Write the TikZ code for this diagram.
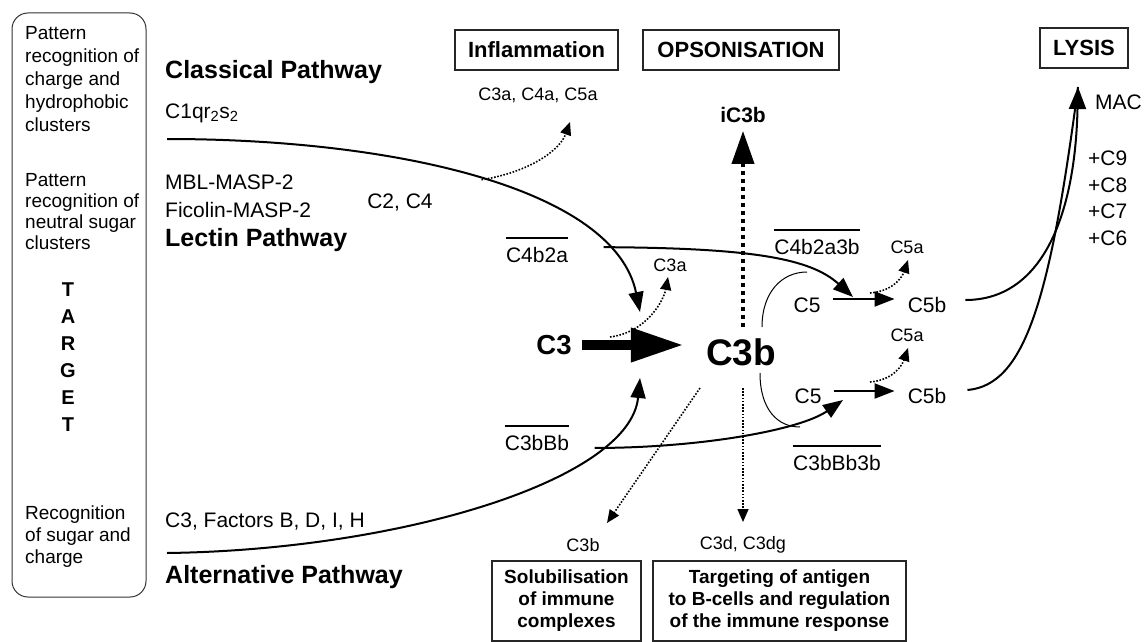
\documentclass[tikz,border=0pt]{standalone}
\usepackage{fontspec}
\setmainfont{Liberation Sans}
\usetikzlibrary{arrows.meta}
\begin{document}
\begin{tikzpicture}[x=1pt,y=-1pt,
  lbl/.style={inner sep=0pt, font=\fontsize{21}{25}\selectfont},
  sml/.style={inner sep=0pt, font=\fontsize{18}{22}\selectfont},
  pathlbl/.style={inner sep=0pt, font=\fontsize{25}{30}\selectfont\bfseries, anchor=west},
  boxtxt/.style={inner sep=0pt, align=left, anchor=north west},
  headbox/.style={draw=black!85, line width=1.2pt, inner sep=0pt, font=\fontsize{22}{26}\selectfont\bfseries},
  funcbox/.style={draw=black!85, line width=1.2pt, inner sep=0pt, font=\fontsize{19}{22}\selectfont\bfseries, align=center},
  mainarr/.style={line width=2pt, -{Triangle[length=20pt,width=15pt]}},
  plainln/.style={line width=2pt},
  thinln/.style={line width=1pt},
  dotarr/.style={line width=1.6pt, dash pattern=on 1.6pt off 1.6pt, -{Triangle[length=13pt,width=11pt]}},
  bigdot/.style={line width=4pt, dash pattern=on 4pt off 4pt, -{Triangle[length=33pt,width=22pt]}},
  bigarr/.style={line width=10pt, -{Triangle[length=53pt,width=32pt]}},
  ovl/.style={line width=1.2pt}
]
\useasboundingbox (0,0) rectangle (1145,642);

% target box
\node[draw=black!80, line width=1pt, rounded corners=16pt, minimum width=134, minimum height=584, inner sep=0pt] (target) at (79,305) {};
\node[boxtxt, font=\fontsize{19}{23}\selectfont] (b1) at (25,26) {Pattern\\recognition of\\charge and\\hydrophobic\\clusters};
\node[boxtxt, font=\fontsize{19}{21}\selectfont] (b2) at (25,173) {Pattern\\recognition of\\neutral sugar\\clusters};
\node[inner sep=0pt, font=\fontsize{20}{27}\selectfont\bfseries, align=center, anchor=north] (tg) at (68,283) {T\\A\\R\\G\\E\\T};
\node[boxtxt, font=\fontsize{19}{22}\selectfont] (b3) at (25,506) {Recognition\\of sugar and\\charge};

% pathway labels
\node[pathlbl] (cp) at (165,72) {Classical Pathway};
\node[lbl, anchor=west] (c1q) at (165,113) {C1qr\textsubscript{2}s\textsubscript{2}};
\node[lbl, anchor=west] (mbl) at (165,182) {MBL-MASP-2};
\node[lbl, anchor=west] (fic) at (165,210) {Ficolin-MASP-2};
\node[pathlbl] (lp) at (165,240) {Lectin Pathway};
\node[lbl] (c2c4) at (400,203) {C2, C4};
\node[lbl, anchor=west] (fac) at (165,522) {C3, Factors B, D, I, H};
\node[pathlbl] (ap) at (165,577) {Alternative Pathway};

% top boxes
\node[headbox, minimum width=163, minimum height=40] (infl) at (536.5,50) {Inflammation};
\node[headbox, minimum width=196, minimum height=40] (ops) at (741,50) {OPSONISATION};
\node[headbox, minimum width=88, minimum height=40] (lys) at (1084,48) {LYSIS};
\node[sml] (cas) at (538,95) {C3a, C4a, C5a};
\node[inner sep=0pt, font=\fontsize{21}{25}\selectfont\bfseries] (ic3b) at (743,115) {iC3b};

% central
\node[inner sep=0pt, font=\fontsize{27.5}{30}\selectfont\bfseries] (c3) at (554,345) {C3};
\node[inner sep=0pt, font=\fontsize{37}{40}\selectfont\bfseries] (c3b) at (741,352) {C3b};

\node[lbl] (c4b2a) at (537,255) {C4b2a};
\node[sml] (c3a) at (670,265) {C3a};
\node[lbl] (c4b2a3b) at (817,247) {C4b2a3b};
\node[lbl] (c3bbb) at (537,443) {C3bBb};
\node[lbl] (c3bbb3b) at (837,463) {C3bBb3b};
\node[lbl] (c5u) at (807,305) {C5};
\node[lbl] (c5bu) at (927,305) {C5b};
\node[sml] (c5au) at (907,247) {C5a};
\node[lbl] (c5l) at (808,396) {C5};
\node[lbl] (c5bl) at (927,396) {C5b};
\node[sml] (c5al) at (907,335) {C5a};
\node[lbl, anchor=west] (mac) at (1095,102) {MAC};
\node[inner sep=0pt, anchor=north west, align=left, font=\fontsize{21}{26.5}\selectfont] (cplus) at (1088,151) {+C9\\+C8\\+C7\\+C6};
\node[sml] (c3bs) at (583,545) {C3b};
\node[sml] (c3d) at (743,545) {C3d, C3dg};

% bottom boxes
\node[funcbox, minimum width=149, minimum height=80] (sol) at (566.5,601) {Solubilisation\\of immune\\complexes};
\node[funcbox, minimum width=253, minimum height=80] (tgtg) at (779.5,601) {Targeting of antigen\\to B-cells and regulation\\of the immune response};

% overlines
\foreach \n in {c4b2a,c4b2a3b,c3bbb,c3bbb3b}
  \draw[ovl] ([yshift=9pt]\n.north west) -- ([yshift=9pt]\n.north east);

% free-end coordinates
\coordinate (cs) at (167,139);
\coordinate (as) at (167,553);
\coordinate (ctip) at (640,312);
\coordinate (atip) at (640,378);
\coordinate (c5tipu) at (853,297);
\coordinate (c5tipl) at (843,400);
\coordinate (mtip) at (1078,87);

% classical / lectin pathway
\draw[mainarr] (cs) .. controls (400,139) and (615,190) .. (ctip)
  coordinate[pos=0.5] (jinf) coordinate[pos=0.8] (jc);
\draw[dotarr] (jinf) .. controls (530,172) and (560,150) .. ([shift={(32,27)}]cas.center);
\draw[mainarr] (jc) .. controls (750,248) and (810,258) .. (c5tipu);

% alternative pathway
\draw[mainarr] (as) .. controls (400,550) and (630,480) .. (atip)
  coordinate[pos=0.75] (ja);
\draw[mainarr] (ja) .. controls (700,448) and (800,430) .. (c5tipl);

% C3 -> C3b
\draw[bigarr, shorten <=10pt, shorten >=22pt] (c3.east) -- (c3.east -| c3b.west);
\draw[dotarr] ([shift={(56,-8)}]c3.center) .. controls +(38,-5) and +(-4,22) .. ([shift={(-2,12)}]c3a.center);

% opsonisation
\draw[bigdot, shorten <=11pt, shorten >=8pt] (c3b.north -| ic3b.south) -- (ic3b.south);
\draw[dotarr] ([shift={(-41,36)}]c3b.center) -- ([shift={(24,-22)}]c3bs.center);
\draw[dotarr] ([shift={(2,36)}]c3b.center) -- ([shift={(0,-23)}]c3d.center);

% arcs joining C3b to convertases
\draw[thinln] ([shift={(21,-25)}]c3b.center) .. controls +(0,-35) and +(-25,0) .. ([shift={(0,-33)}]c5u.center);
\draw[thinln] ([shift={(19,21)}]c3b.center) .. controls +(0,37) and +(-22,0) .. ([shift={(-8,31)}]c5l.center);

% C5 -> C5b
\draw[mainarr] ([shift={(12,-6)}]c5u.east) -- ([shift={(-13,-6)}]c5bu.west);
\draw[mainarr] ([shift={(12,-5)}]c5l.east) -- ([shift={(-13,-5)}]c5bl.west);
\draw[dotarr] ([shift={(63,-12)}]c5u.center) .. controls +(25,-2) and +(-5,15) .. ([shift={(1,13)}]c5au.center);
\draw[dotarr] ([shift={(62,-14)}]c5l.center) .. controls +(25,-2) and +(-5,15) .. ([shift={(1,13)}]c5al.center);

% to MAC
\draw[plainln] ([shift={(21,-6)}]c5bl.east) .. controls (1025,385) and (1050,300) .. (mtip);
\draw[line width=2pt, -{Triangle[length=22pt,width=17pt]}] ([shift={(19,-5)}]c5bu.east) .. controls (1040,300) and (1075,220) .. (mtip);
\end{tikzpicture}
\end{document}
